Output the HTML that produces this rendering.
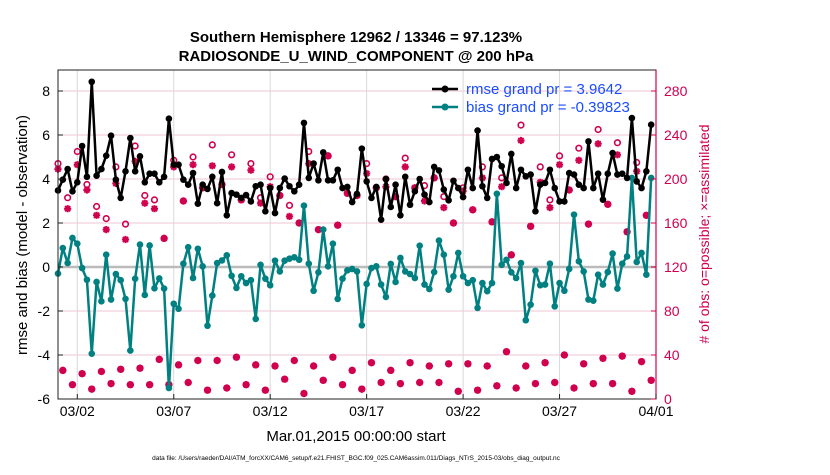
<!DOCTYPE html>
<html><head><meta charset="utf-8"><style>
body{margin:0;background:#fff;width:830px;height:470px;overflow:hidden}
svg{font-family:"Liberation Sans",sans-serif}
</style></head><body>
<svg id="chart" width="830" height="470" viewBox="0 0 830 470" xmlns="http://www.w3.org/2000/svg">
<text x="356" y="42" text-anchor="middle" font-size="15" font-weight="bold">Southern Hemisphere 12962 / 13346 = 97.123%</text>
<text x="356" y="61" text-anchor="middle" font-size="15" font-weight="bold">RADIOSONDE_U_WIND_COMPONENT @ 200 hPa</text>
<g id="grid"></g>
<g id="marks"></g>
<rect x="58" y="70" width="598" height="329" fill="none" stroke="#222" stroke-width="1"/>
<line x1="656" y1="70" x2="656" y2="399" stroke="#d0004f" stroke-width="1.2"/>
<g id="ticks"></g>
<text x="356" y="441" text-anchor="middle" font-size="15">Mar.01,2015 00:00:00 start</text>
<text transform="translate(27,235) rotate(-90)" text-anchor="middle" font-size="15">rmse and bias (model - observation)</text>
<text transform="translate(709,234) rotate(-90)" text-anchor="middle" font-size="14" fill="#d0004f"># of obs: o=possible; ×=assimilated</text>
<text x="356" y="460" text-anchor="middle" font-size="6.5">data file: /Users/raeder/DAI/ATM_forcXX/CAM6_setup/f.e21.FHIST_BGC.f09_025.CAM6assim.011/Diags_NTrS_2015-03/obs_diag_output.nc</text>
<g>
<line x1="432" y1="89" x2="458" y2="89" stroke="#000" stroke-width="2.5"/><circle cx="445" cy="89" r="3.5" fill="#000"/>
<text x="466" y="94" font-size="15" fill="#1a4cff">rmse grand pr = 3.9642</text>
<line x1="432" y1="107" x2="458" y2="107" stroke="#008080" stroke-width="2.5"/><circle cx="445" cy="107" r="3.5" fill="#008080"/>
<text x="466" y="112" font-size="15" fill="#1a4cff">bias grand pr = -0.39823</text>
</g>
</svg>
<script>
const xTickLabels=["03/02","03/07","03/12","03/17","03/22","03/27","04/01"];
const xTickDays=[1,6,11,16,21,26,31];
const leftTicks=[8,6,4,2,0,-2,-4,-6];
const rightTicks=[0,40,80,120,160,200,240,280];
const rmse=[3.48,3.97,4.45,3.44,3.85,5.5,4.1,8.42,4.15,4.45,5.06,5.97,3.97,3.14,4.35,5.86,4.35,5.03,3.85,4.24,4.24,3.85,4.1,6.74,4.65,4.65,3.97,3.74,4.27,2.88,3.74,3.55,4.1,2.9,4.32,2.35,3.36,3.29,3.14,3.27,2.98,3.67,
3.74,2.53,3.59,2.45,3.59,4.02,3.67,3.44,3.74,6.55,4.05,4.7,3.94,5.21,3.94,3.94,4.42,3.59,3.64,2.95,3.32,5.38,3.89,3.14,3.64,2.15,4.0,2.73,3.74,2.35,4.1,2.83,3.44,4.0,3.29,2.95,4.55,4.39,3.52,3.03,3.92,3.59,
3.18,4.42,3.59,6.2,3.67,3.14,4.91,5.0,4.58,3.82,5.14,3.59,4.42,4.12,4.2,2.53,3.74,3.82,4.42,3.59,2.98,2.98,4.27,4.2,3.74,3.59,5.71,3.59,4.24,3.06,4.24,5.18,4.2,4.24,4.05,6.77,3.89,3.59,4.35,6.47];
const bias=[-0.3,0.86,0.18,1.32,1.06,-0.05,-0.58,-3.94,-0.68,-1.56,0.56,-1.48,-0.32,-0.6,-1.45,-3.8,-0.53,1.02,-1.27,0.98,-0.97,-0.52,-0.98,-5.5,-1.67,-1.9,0.15,0.9,-0.5,0.83,0.03,-2.67,-1.3,0.18,0.3,0.53,-0.4,-0.95,-0.42,-0.73,-0.6,-2.36,
0.1,-0.53,-0.83,0.29,-0.2,0.29,0.38,0.44,0.33,2.79,0.15,-1.08,-0.24,1.7,0.03,1.06,-1.45,-0.53,-0.15,-0.09,-0.2,-2.65,-0.77,-0.05,0.03,-0.8,-1.36,0.14,-0.68,0.41,-0.2,-0.32,-0.5,0.97,-0.8,-1.0,-0.23,1.2,0.56,-1.03,-0.42,0.64,
-0.42,-0.73,-0.6,-1.86,-0.73,-1.1,-0.73,3.33,0.1,0.33,-0.24,-0.5,0.18,-2.42,-1.71,-0.17,-0.83,-0.8,0.15,-1.79,-0.73,-1.08,-0.09,2.38,0.26,-0.2,-1.48,-1.53,-0.35,-0.8,-0.23,0.61,-0.98,0.15,0.48,4.05,0.23,0.64,-0.35,4.05];
const possible=[214,26,183,13,225,23,195,9,175,25,164,14,211,27,159,13,230,28,185,13,181,36,146,13,217,31,180,15,220,35,192,8,231,35,195,10,222,38,181,13,214,31,
183,8,202,30,185,18,176,35,160,5,225,30,154,17,221,38,158,13,187,26,185,9,214,33,192,15,200,26,184,14,219,33,192,15,194,30,201,15,184,32,160,7,
192,32,172,8,211,30,161,12,201,43,131,10,249,30,157,14,211,33,181,15,221,40,190,10,228,32,159,14,245,37,177,14,233,39,152,7,215,34,167,17];
const assimilated=[209,26,173,13,213,23,190,9,167,25,154,14,196,27,145,13,216,28,178,13,173,36,146,13,211,31,180,15,213,35,192,8,212,35,195,10,211,38,181,13,208,31,
178,8,193,30,185,18,166,35,160,5,214,30,154,17,221,38,158,13,187,26,185,9,205,33,192,15,193,26,184,14,211,33,192,15,180,30,201,15,174,32,160,7,
189,32,172,8,201,30,161,12,193,43,131,10,235,30,157,14,197,33,174,15,213,40,190,10,217,32,159,14,232,37,177,14,222,39,152,7,207,34,167,17];

const NS="http://www.w3.org/2000/svg";
const X0=58,X1=656,YT=70,YB=399;
function xDay(d){return X0+d*(X1-X0)/31;}
function xIdx(i){return xDay(i*0.25);}
function yL(v){return 267-22*v;}
function yR(c){return YB-1.1*c;}
function mk(tag,attrs,parent){const e=document.createElementNS(NS,tag);for(const k in attrs)e.setAttribute(k,attrs[k]);parent.appendChild(e);return e;}
const grid=document.getElementById('grid'),marks=document.getElementById('marks'),ticks=document.getElementById('ticks');

leftTicks.forEach(v=>{
  const g=mk('line',{x1:X0,x2:X1,y1:yL(v),y2:yL(v),stroke:'#f2c6d6','stroke-width':1},grid);
  
  
  const t=mk('line',{x1:X0,x2:X0+5,y1:yL(v),y2:yL(v),stroke:'#222'},ticks);
  
  
  const l=mk('text',{x:X0-8,y:yL(v)+5,'text-anchor':'end','font-size':14},ticks);l.textContent=v;
  
  
});
rightTicks.forEach(c=>{
  const t=mk('line',{x1:X1-5,x2:X1,y1:yR(c),y2:yR(c),stroke:'#d0004f'},ticks);
  
  
  const l=mk('text',{x:X1+8,y:yR(c)+5,'font-size':14,fill:'#d0004f'},ticks);l.textContent=c;
  
  
});
xTickDays.forEach((d,k)=>{
  const g=mk('line',{x1:xDay(d),x2:xDay(d),y1:YT,y2:YB,stroke:'#d8d8d8','stroke-width':1},grid);
  
  
  const t=mk('line',{x1:xDay(d),x2:xDay(d),y1:YB-5,y2:YB,stroke:'#222'},ticks);
  
  
  const l=mk('text',{x:xDay(d),y:416,'text-anchor':'middle','font-size':14},ticks);l.textContent=xTickLabels[k];
  
  
});
const z=mk('line',{x1:X0,x2:X1,y1:yL(0),y2:yL(0),stroke:'#bbbbbb','stroke-width':2.5},grid);



const red='#d0004f';
possible.forEach((c,i)=>{
  const o=mk('circle',{cx:xIdx(i),cy:yR(c),r:2.8,fill:'none',stroke:red,'stroke-width':1.6},marks);
  
  
});
assimilated.forEach((c,i)=>{
  const x=xIdx(i),y=yR(c),r=3.6;
  const d=`M${x-r},${y}H${x+r}M${x},${y-r}V${y+r}M${x-2.6},${y-2.6}L${x+2.6},${y+2.6}M${x-2.6},${y+2.6}L${x+2.6},${y-2.6}`;
  const a=mk('path',{d:d,stroke:red,'stroke-width':2,fill:'none'},marks);
  
  
});
function series(vals,color,name){
  const p=mk('polyline',{points:vals.map((v,i)=>xIdx(i)+','+yL(v)).join(' '),fill:'none',stroke:color,'stroke-width':2.5,'stroke-linejoin':'round'},marks);
  
  
  vals.forEach((v,i)=>{
    const c=mk('circle',{cx:xIdx(i),cy:yL(v),r:3.3,fill:color},marks);
    
    
  });
}
series(bias,'#008080','bias');
series(rmse,'#000000','rmse');
</script>
</body></html>
